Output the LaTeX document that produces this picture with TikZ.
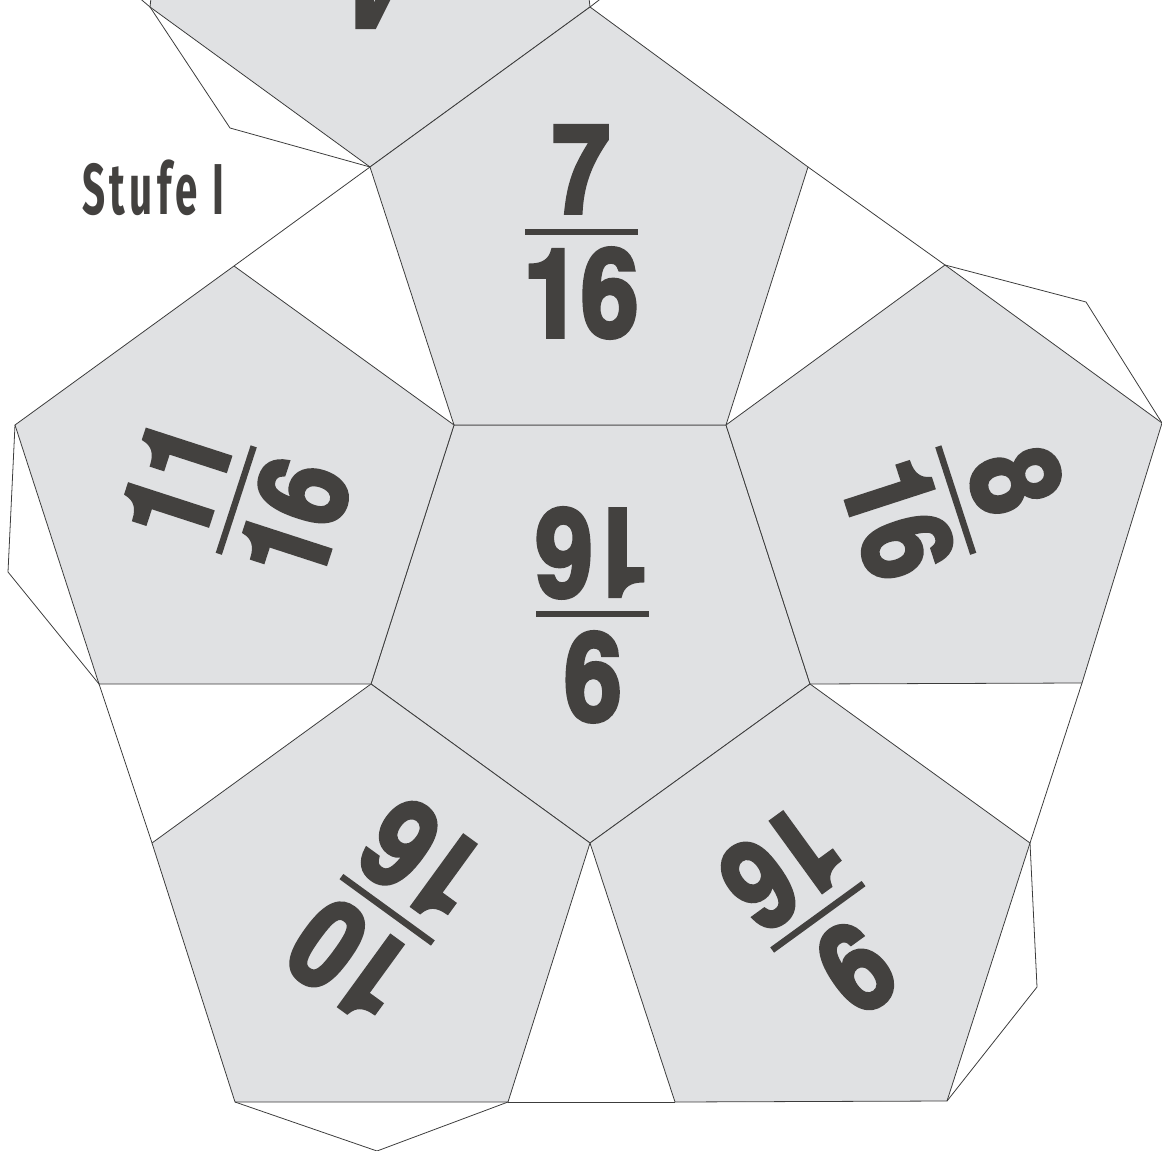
\documentclass[tikz,border=0pt]{standalone}
\usepackage{fontspec}
\usetikzlibrary{positioning}
\newfontfamily\facefont[FakeStretch=0.84,FakeBold=3.2]{TeX Gyre Heros}
\newfontfamily\stufefont[FakeStretch=0.56,LetterSpace=6,WordSpace=1.1]{Fira Sans}
\definecolor{netface}{RGB}{224,225,227}
\definecolor{netink}{RGB}{67,65,63}
\definecolor{netline}{RGB}{60,60,60}
\newcommand{\facefrac}[5]{%
\begin{scope}[shift={(#2)},rotate=#3,transform shape]
\node[digitstyle] (#1num) at (0,19) {#4};
\fill[netink] (-56.5,-3.5) rectangle (56.5,3);
\node[digitstyle] (#1den) at (0,-105) {#5};
\end{scope}}

\begin{document}
\begin{tikzpicture}[
  x=0.02cm, y=0.02cm,
  facestyle/.style={fill=netface, draw=netline, line width=0.45pt, line join=round},
  flapstyle/.style={draw=netline, line width=0.45pt, line join=round},
  digitstyle/.style={inner sep=0pt, anchor=base, text=netink,
                     font=\fontsize{70}{70}\facefont\bfseries}
]
\useasboundingbox (0,-1151) rectangle (1162,0);
% corners of the net
\coordinate (a) at (454,-425);
\coordinate (b) at (726,-425);
\coordinate (c) at (810,-684);
\coordinate (d) at (590,-843);
\coordinate (e) at (371,-684);
\coordinate (t1) at (808,-167);
\coordinate (t2) at (590,-7);
\coordinate (t3) at (370,-167);
\coordinate (r1) at (945,-265);
\coordinate (r2) at (1162,-423);
\coordinate (r3) at (1082,-683);
\coordinate (s1) at (1030,-843);
\coordinate (s2) at (947,-1101);
\coordinate (s3) at (675,-1102);
\coordinate (u1) at (508,-1102);
\coordinate (u2) at (235,-1102);
\coordinate (u3) at (152,-843);
\coordinate (l1) at (99,-684);
\coordinate (l2) at (15,-425);
\coordinate (l3) at (234,-266);
\coordinate (k1) at (150,-7);
% pentagon cut off at the top
\begin{scope}
\clip (0,-1151) rectangle (1162,0);
\fill[netface] (t3) -- (t2) -- (587,20) -- (153,20) -- (k1) -- cycle;
\draw[flapstyle] (587,20) -- (t2) -- (t3) -- (k1) -- (153,20);
\draw[flapstyle] (t2) -- (612,10);
\draw[flapstyle] (k1) -- (130,10);
\node[digitstyle, rotate=180] (topnum) at (375,60) {4};
\end{scope}
% faces
\draw[facestyle] (a) -- (b) -- (c) -- (d) -- (e) -- cycle;
\draw[facestyle] (a) -- (b) -- (t1) -- (t2) -- (t3) -- cycle;
\draw[facestyle] (b) -- (r1) -- (r2) -- (r3) -- (c) -- cycle;
\draw[facestyle] (c) -- (s1) -- (s2) -- (s3) -- (d) -- cycle;
\draw[facestyle] (d) -- (u1) -- (u2) -- (u3) -- (e) -- cycle;
\draw[facestyle] (e) -- (l1) -- (l2) -- (l3) -- (a) -- cycle;
% gaps and glue flaps
\draw[flapstyle] (t3) -- (l3);
\draw[flapstyle] (t1) -- (r1);
\draw[flapstyle] (r3) -- (s1);
\draw[flapstyle] (l1) -- (u3);
\draw[flapstyle] (u1) -- (s3);
\coordinate (f1) at (230,-128);
\coordinate (f2) at (1086,-302);
\coordinate (f3) at (1037,-987);
\coordinate (f4) at (377,-1151);
\coordinate (f5) at (8,-572);
\draw[flapstyle] (k1) -- (f1) -- (t3);
\draw[flapstyle] (r1) -- (f2) -- (r2);
\draw[flapstyle] (s1) -- (f3) -- (s2);
\draw[flapstyle] (u2) -- (f4) -- (u1);
\draw[flapstyle] (l2) -- (f5) -- (l1);
% fractions
\facefrac{top}{581,-232}{0}{7}{16}
\facefrac{mid}{592,-614}{180}{9}{16}
\facefrac{right}{956,-500}{-72}{8}{16}
\facefrac{left}{236,-500}{72}{11}{16}
\facefrac{lowl}{387,-910}{144}{10}{16}
\facefrac{lowr}{818,-917}{-144}{9}{16}
\node[inner sep=0pt, anchor=base west, text=netink, font=\fontsize{41}{41}\stufefont\bfseries] (stufe) at (82,-215) {Stufe I};
\end{tikzpicture}
\end{document}
